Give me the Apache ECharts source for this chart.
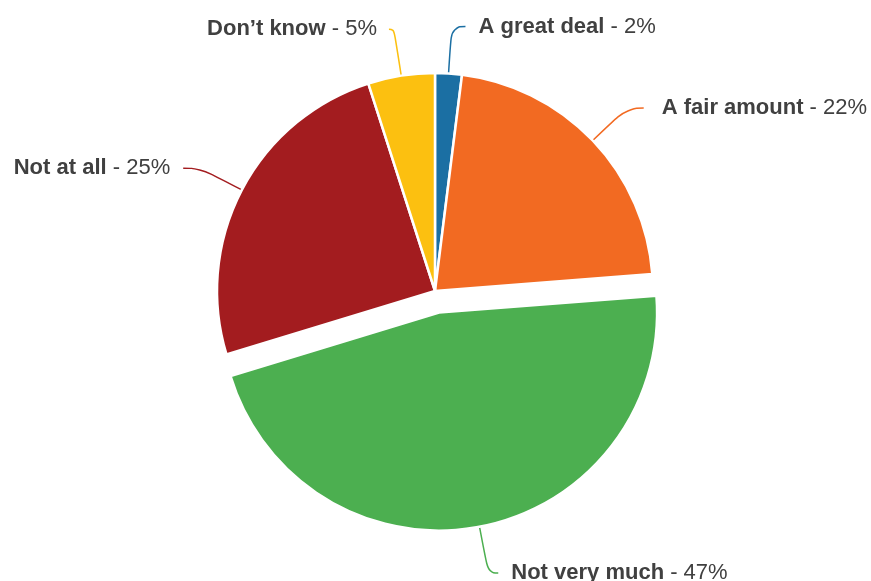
<!DOCTYPE html>
<html><head><meta charset="utf-8">
<script src="https://cdn.jsdelivr.net/npm/echarts@6/dist/echarts.min.js"></script>
<style>html,body{margin:0;padding:0;background:#fff}#c{width:871px;height:581px}</style>
</head><body><div id="c"></div>
<script>
const categories = ['A great deal', 'A fair amount', 'Not very much', 'Not at all', 'Don\u2019t know'];
const values = [2, 22, 47, 25, 5];
const colors = ['#1B6FA3', '#F26A22', '#4CAF50', '#A31C1F', '#FCC010'];
const exploded = [false, false, true, false, false];
// connector styling (horizontal tail length / gap to text) per slice
const tailLen = [14, 17, 10, 17, 5];
const tailGap = [13, 18, 13, 13, 12];

const FONT = 'Liberation Sans, Arial, sans-serif';
const chart = echarts.init(document.getElementById('c'));
chart.setOption({
  animation: false,
  series: [{
    type: 'pie',
    center: [435, 291],
    radius: 218,
    startAngle: 90,
    clockwise: true,
    selectedMode: 'single',
    selectedOffset: 22,
    avoidLabelOverlap: false,
    itemStyle: { borderColor: '#fff', borderWidth: 2.5 },
    label: {
      show: true,
      position: 'outside',
      fontFamily: FONT,
      fontSize: 22,
      color: '#404040',
      distanceToLabelLine: 13,
      formatter: p => '{b|' + p.name + '} - ' + p.value + '%',
      rich: { b: { fontWeight: 'bold', fontSize: 22, color: '#404040', fontFamily: FONT } }
    },
    labelLine: { show: true, length: 47, length2: 10, smooth: 0.5, lineStyle: { width: 1.5 } },
    data: categories.map((c, i) => ({
      name: c, value: values[i], selected: exploded[i],
      itemStyle: { color: colors[i] },
      label: { distanceToLabelLine: tailGap[i] },
      labelLine: { length2: tailLen[i] }
    }))
  }]
});
</script></body></html>
